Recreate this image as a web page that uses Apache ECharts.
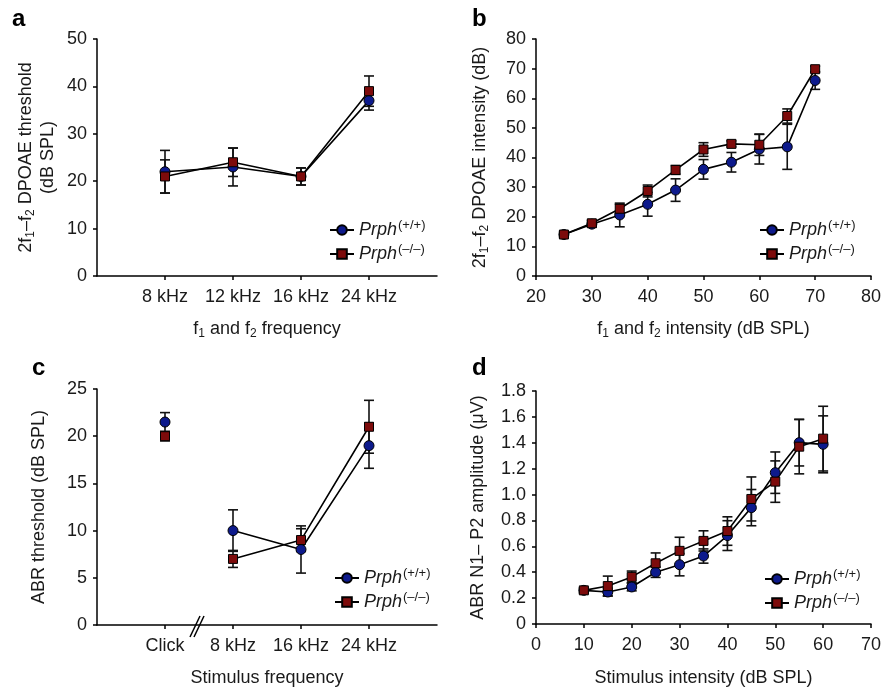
<!DOCTYPE html>
<html>
<head>
<meta charset="utf-8">
<script src="https://cdn.jsdelivr.net/npm/echarts@6/dist/echarts.min.js"></script>
<style>
  html, body { margin: 0; padding: 0; background: #fff; }
  #chart { width: 884px; height: 688px; }
</style>
</head>
<body>
<div id="chart"></div>
<script>
// a: DPOAE threshold
const freqA = ['8 kHz', '12 kHz', '16 kHz', '24 kHz'];
const dpThrWT = [22, 23, 21, 37];
const dpThrWTErr = [4.5, 4, 1.8, 2];
const dpThrKO = [21, 24, 21, 39];
const dpThrKOErr = [3.5, 3, 1.8, 3.2];

// b: DPOAE intensity
const levelB = [25, 30, 35, 40, 45, 50, 55, 60, 65, 70];
const dpIntWT = [14, 17.5, 20.6, 24.2, 29, 36, 38.4, 42.8, 43.6, 66];
const dpIntWTErr = [1, 1, 4, 4, 3.8, 3.3, 3.3, 5, 7.6, 3];
const dpIntKO = [14, 17.8, 22.7, 28.7, 35.8, 42.7, 44.6, 44.3, 54, 69.8];
const dpIntKOErr = [0.8, 1, 1.5, 2, 1.5, 2.3, 1, 3.6, 2.4, 1];

// c: ABR threshold (Click not joined to the tone points)
const freqC = ['Click', '8 kHz', '16 kHz', '24 kHz'];
const abrThrWT = [21.5, 10, 8, 19];
const abrThrWTErr = [1, 2.2, 2.5, 2.4];
const abrThrKO = [20, 7, 9, 21];
const abrThrKOErr = [0.5, 0.9, 1.2, 2.8];

// d: ABR N1-P2 amplitude
const levelD = [10, 15, 20, 25, 30, 35, 40, 45, 50, 55, 60];
const ampWT = [0.26, 0.247, 0.286, 0.40, 0.458, 0.525, 0.683, 0.899, 1.169, 1.401, 1.388];
const ampWTErr = [0.02, 0.03, 0.03, 0.04, 0.086, 0.055, 0.115, 0.14, 0.16, 0.18, 0.22];
const ampKO = [0.26, 0.293, 0.364, 0.469, 0.565, 0.642, 0.718, 0.966, 1.10, 1.37, 1.432];
const ampKOErr = [0.02, 0.077, 0.045, 0.08, 0.105, 0.078, 0.11, 0.17, 0.16, 0.21, 0.25];

const WT = 'Prph(+/+)';
const KO = 'Prph(-/-)';
const blue = '#0d1a8c';
const red = '#7d0b0b';
const ink = '#1a1a1a';
const font = 'Liberation Sans, Arial, sans-serif';

const chart = echarts.init(document.getElementById('chart'));

function errRender(params, api) {
    const x = api.value(0);
    const lo = api.coord([x, api.value(1)]);
    const hi = api.coord([x, api.value(2)]);
    const w = 5;
    const st = { stroke: '#111', lineWidth: 1.6 };
    return {
        type: 'group',
        children: [
            { type: 'line', shape: { x1: lo[0], y1: lo[1], x2: hi[0], y2: hi[1] }, style: st },
            { type: 'line', shape: { x1: lo[0] - w, y1: lo[1], x2: lo[0] + w, y2: lo[1] }, style: st },
            { type: 'line', shape: { x1: hi[0] - w, y1: hi[1], x2: hi[0] + w, y2: hi[1] }, style: st }
        ]
    };
}

function errSeries(idx, xs, vals, errs) {
    return {
        type: 'custom',
        name: 'err' + idx,
        xAxisIndex: idx,
        yAxisIndex: idx,
        renderItem: errRender,
        encode: { x: 0, y: [1, 2] },
        data: vals.map((v, i) => [xs[i], v - errs[i], v + errs[i]]),
        z: 1,
        silent: true
    };
}

function lineSeries(idx, name, data, isWT) {
    return {
        type: 'line',
        name: name,
        xAxisIndex: idx,
        yAxisIndex: idx,
        data: data,
        symbol: isWT ? 'circle' : 'rect',
        symbolSize: isWT ? 10 : 9,
        itemStyle: { color: isWT ? blue : red, borderColor: '#000', borderWidth: 1, opacity: 1 },
        lineStyle: { color: '#000', width: 1.6 },
        z: 3,
        animation: false
    };
}

const axisLine = { show: true, lineStyle: { color: '#000', width: 1.5 } };
const axisTick = { show: true, inside: false, length: 4, lineStyle: { color: '#000', width: 1.5 } };
const label = { color: ink, fontSize: 18, fontFamily: font };
const sub = { fontSize: 12, fontFamily: font, color: ink, padding: [10, 0, 0, 0] };

function catAxis(idx, cats) {
    return {
        type: 'category', gridIndex: idx, boundaryGap: false,
        data: [''].concat(cats, ['']),
        axisLine: axisLine,
        axisTick: Object.assign({}, axisTick, { interval: (i) => i > 0 && i <= cats.length }),
        axisLabel: Object.assign({}, label, { interval: 0, margin: 12 }),
        splitLine: { show: false }
    };
}

function valAxisX(idx, min, max, step) {
    return {
        type: 'value', gridIndex: idx, min: min, max: max, interval: step,
        axisLine: axisLine, axisTick: axisTick,
        axisLabel: Object.assign({}, label, { margin: 12 }),
        splitLine: { show: false }
    };
}

function valAxisY(idx, min, max, step, name, gap, fmt) {
    return {
        type: 'value', gridIndex: idx, min: min, max: max, interval: step,
        axisLine: axisLine, axisTick: axisTick,
        axisLabel: Object.assign({}, label, { margin: 10, formatter: fmt }),
        splitLine: { show: false },
        name: name, nameLocation: 'middle', nameGap: gap,
        nameTextStyle: { color: ink, fontSize: 18, fontFamily: font, lineHeight: 22, rich: { sub: sub } }
    };
}

function xName(axis, name, gap) {
    axis.name = name;
    axis.nameLocation = 'middle';
    axis.nameGap = gap;
    axis.nameTextStyle = { color: ink, fontSize: 18, fontFamily: font, rich: { sub: sub } };
    return axis;
}

function legend(left, top) {
    return {
        orient: 'vertical', left: left, top: top,
        data: [WT, KO],
        itemWidth: 24, itemHeight: 12, itemGap: 4,
        selectedMode: false,
        formatter: (n) => n === WT ? '{i|Prph}{s|(+/+)}' : '{i|Prph}{s|(\u2013/\u2013)}',
        textStyle: {
            rich: {
                i: { fontStyle: 'italic', fontSize: 18, fontFamily: font, color: ink },
                s: { fontSize: 13, fontFamily: font, color: ink, padding: [0, 0, 9, 1] }
            }
        }
    };
}

const idxA = freqA.map((_, i) => i + 1);
const idxC = freqC.map((_, i) => i + 1);

const xAxes = [
    xName(catAxis(0, freqA), 'f{sub|1} and f{sub|2} frequency', 42),
    xName(valAxisX(1, 20, 80, 10), 'f{sub|1} and f{sub|2} intensity (dB SPL)', 42),
    xName(catAxis(2, freqC), 'Stimulus frequency', 44),
    xName(valAxisX(3, 0, 70, 10), 'Stimulus intensity (dB SPL)', 45)
];

const yAxes = [
    valAxisY(0, 0, 50, 10, '2f{sub|1}\u2013f{sub|2} DPOAE threshold\n(dB SPL)', 38),
    valAxisY(1, 0, 80, 10, '2f{sub|1}\u2013f{sub|2} DPOAE intensity (dB)', 45),
    valAxisY(2, 0, 25, 5, 'ABR threshold (dB SPL)', 47),
    valAxisY(3, 0, 1.8, 0.2, 'ABR N1\u2013 P2 amplitude (\u03bcV)', 47, (v) => v === 0 ? '0' : v.toFixed(1))
];

const series = [
    errSeries(0, idxA, dpThrWT, dpThrWTErr),
    errSeries(0, idxA, dpThrKO, dpThrKOErr),
    lineSeries(0, WT, ['-'].concat(dpThrWT), true),
    lineSeries(0, KO, ['-'].concat(dpThrKO), false),

    errSeries(1, levelB, dpIntWT, dpIntWTErr),
    errSeries(1, levelB, dpIntKO, dpIntKOErr),
    lineSeries(1, WT, levelB.map((x, i) => [x, dpIntWT[i]]), true),
    lineSeries(1, KO, levelB.map((x, i) => [x, dpIntKO[i]]), false),

    errSeries(2, idxC, abrThrWT, abrThrWTErr),
    errSeries(2, idxC, abrThrKO, abrThrKOErr),
    lineSeries(2, WT, ['-', '-'].concat(abrThrWT.slice(1)), true),
    lineSeries(2, KO, ['-', '-'].concat(abrThrKO.slice(1)), false),
    Object.assign(lineSeries(2, 'clickWT', [[1, abrThrWT[0]]], true), { type: 'scatter' }),
    Object.assign(lineSeries(2, 'clickKO', [[1, abrThrKO[0]]], false), { type: 'scatter' }),

    errSeries(3, levelD, ampWT, ampWTErr),
    errSeries(3, levelD, ampKO, ampKOErr),
    lineSeries(3, WT, levelD.map((x, i) => [x, ampWT[i]]), true),
    lineSeries(3, KO, levelD.map((x, i) => [x, ampKO[i]]), false)
];

const letter = (t, x, y) => ({
    type: 'text', left: x, top: y,
    style: { text: t, fontSize: 24, fontWeight: 'bold', fontFamily: font, fill: '#000' }
});

chart.setOption({
    animation: false,
    backgroundColor: '#fff',
    grid: [
        { left: 97, top: 39, width: 340, height: 237 },
        { left: 536, top: 39, width: 337, height: 237 },
        { left: 97, top: 389, width: 340, height: 237 },
        { left: 536, top: 391, width: 339, height: 236 }
    ],
    xAxis: xAxes,
    yAxis: yAxes,
    legend: [legend(324, 214), legend(754, 214), legend(329, 562), legend(759, 563)],
    series: series,
    graphic: [
        letter('a', 12, 7),
        letter('b', 472, 7),
        letter('c', 32, 356),
        letter('d', 472, 356),
        // axis break mark between Click and 8 kHz
        { type: 'line', shape: { x1: 190, y1: 637, x2: 200, y2: 616 }, style: { stroke: '#000', lineWidth: 1.5 } },
        { type: 'line', shape: { x1: 194, y1: 637, x2: 204, y2: 616 }, style: { stroke: '#000', lineWidth: 1.5 } }
    ]
});
</script>
</body>
</html>
